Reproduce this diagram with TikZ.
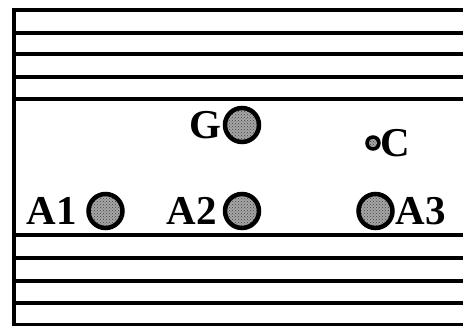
\documentclass[tikz,border=0pt]{standalone}
\usepackage{fontspec}
\setmainfont{Liberation Serif}
\usepackage{tikz}
\usetikzlibrary{positioning,patterns}

\begin{document}
\begin{tikzpicture}[x=1pt,y=1pt,
  layer/.style={line width=3.2pt},
  wire/.style={circle,draw,line width=4.5pt,preaction={fill=black!35},pattern=crosshatch dots,pattern color=black!75,inner sep=0pt,minimum size=#1},
  lbl/.style={font=\bfseries\fontsize{41}{41}\selectfont,inner sep=0pt}]
\useasboundingbox (0,0) rectangle (463,326);
% Left edge
\draw[line width=4pt] (14,317.6) -- (14,-0.6);
% Upper and lower layers
\foreach \y in {316,293,272,249,227,91,68,45,23,1}
  \draw[layer] (14,\y) -- (463,\y);
% Conductors
\node[wire=34pt] (a1) at (105.5,115) {};
\node[wire=34pt] (a2) at (242,115) {};
\node[wire=34pt] (a3) at (375.5,115) {};
\node[wire=34pt] (g) at (242,201) {};
\node[wire=12pt,line width=3.5pt] (c) at (373,183) {};
% Labels
\node[lbl,left=9pt of a1] (la1) {A1};
\node[lbl,left=6pt of a2] (la2) {A2};
\node[lbl,right=1pt of a3] (la3) {A3};
\node[lbl,left=1pt of g] (lg) {G};
\node[lbl,right=0pt of c] (lc) {C};
\end{tikzpicture}
\end{document}
